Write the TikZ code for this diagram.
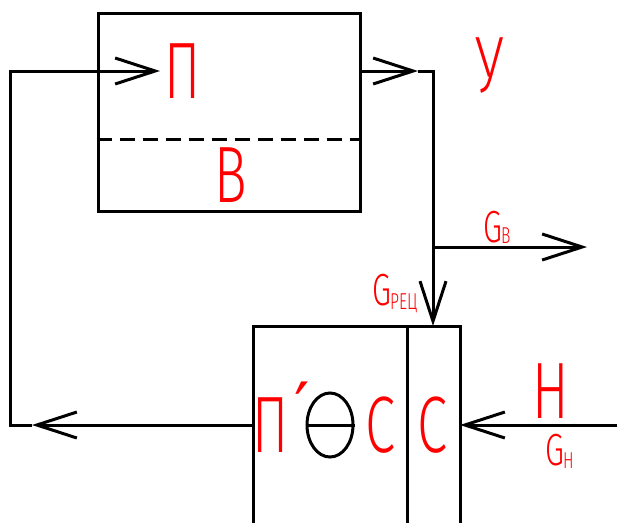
\documentclass[tikz,border=0pt]{standalone}
\usepackage{fontspec}
\setmainfont{Fira Sans}[UprightFont={* Light}]
\newfontfamily\djv{DejaVu Sans}
\usepackage{graphicx}
\usetikzlibrary{arrows.meta,shapes.geometric}
\newcommand{\nrw}[1]{\scalebox{0.68}[1]{#1}}
\begin{document}
\begin{tikzpicture}[x=1pt,y=-1pt,
  ln/.style={line width=3pt},
  arr/.style={ln,-{Straight Barb[length=40pt,width=26pt]}},
  big/.style={text=red,inner sep=0pt,font=\fontsize{80}{80}\selectfont},
  mid/.style={text=red,inner sep=0pt,font=\fontsize{45}{45}\selectfont},
  box/.style={draw,ln,inner sep=0pt}]
\useasboundingbox (0,0) rectangle (617,523);
% top box
\node[box,minimum width=262pt,minimum height=198pt] (top) at (229,112) {};
\draw[ln,dash pattern=on 15pt off 8pt] (top.west |- 0,139) coordinate (dl) -- (top.east |- 0,139) coordinate (dr);
% bottom box
\coordinate (bl) at (253,523);
\coordinate (btl) at (253,326);
\coordinate (btr) at (460,326);
\coordinate (br) at (460,523);
\coordinate (dvt) at (407,326);
\coordinate (dvb) at (407,523);
\draw[ln] (bl) -- (btl) -- (btr) -- (br);
\draw[ln] (dvt) -- (dvb);
% labels
\node[big] (P) at (183,71) {\nrw{П}};
\node[big] (V) at (231,175) {\nrw{В}};
\node[big] (U) at (490,66) {\nrw{У}};
\node[big] (P2) at (271,425) {\nrw{П}};
\node[text=red,inner sep=0pt,font=\djv\fontsize{68}{68}\selectfont] (pr) at (302,407) {′};
\node[big] (C1) at (380,425) {\nrw{С}};
\node[big] (C2) at (432,425) {\nrw{С}};
\node[big] (N) at (551,391) {\nrw{Н}};
\node[mid,anchor=base west] (Gv) at (483,242) {\nrw{G}\kern-1pt\raisebox{-1pt}{\fontsize{23}{23}\selectfont\nrw{В}}};
\node[mid,anchor=base west] (Gr) at (372,305) {\nrw{G}\kern-1pt\raisebox{-4pt}{\fontsize{23}{23}\selectfont\nrw{РЕЦ}}};
\node[mid,anchor=base west] (Gn) at (545,465) {\nrw{G}\kern-1pt\raisebox{-3pt}{\fontsize{23}{23}\selectfont\nrw{Н}}};
% theta symbol
\node[draw,ln,ellipse,minimum width=46pt,minimum height=64pt,inner sep=0pt] (th) at (330,425) {};
\draw[ln] (th.west) -- (th.east);
% connectors
\coordinate (lin) at (160,71);
\coordinate (lc) at (10,71);
\coordinate (lb) at (10,425);
\coordinate (lt) at (32,425);
\coordinate (rt) at (418,71);
\coordinate (rc) at (433,71);
\coordinate (rd) at (433,326);
\coordinate (brn) at (433,247);
\coordinate (gout) at (587,247);
\coordinate (nin) at (617,425);
\coordinate (nt) at (460,425);
\draw[arr] (top.east |- rt) -- (rt);
\draw[arr] (rt) -- (rc) -- (rd);
\draw[arr] (brn) -- (gout);
\draw[arr] (nin) -- (nt);
\draw[arr] (btl |- lb) -- (lt);
\draw[arr] (lt) -- (lb) -- (lc) -- (lin);
\end{tikzpicture}
\end{document}
